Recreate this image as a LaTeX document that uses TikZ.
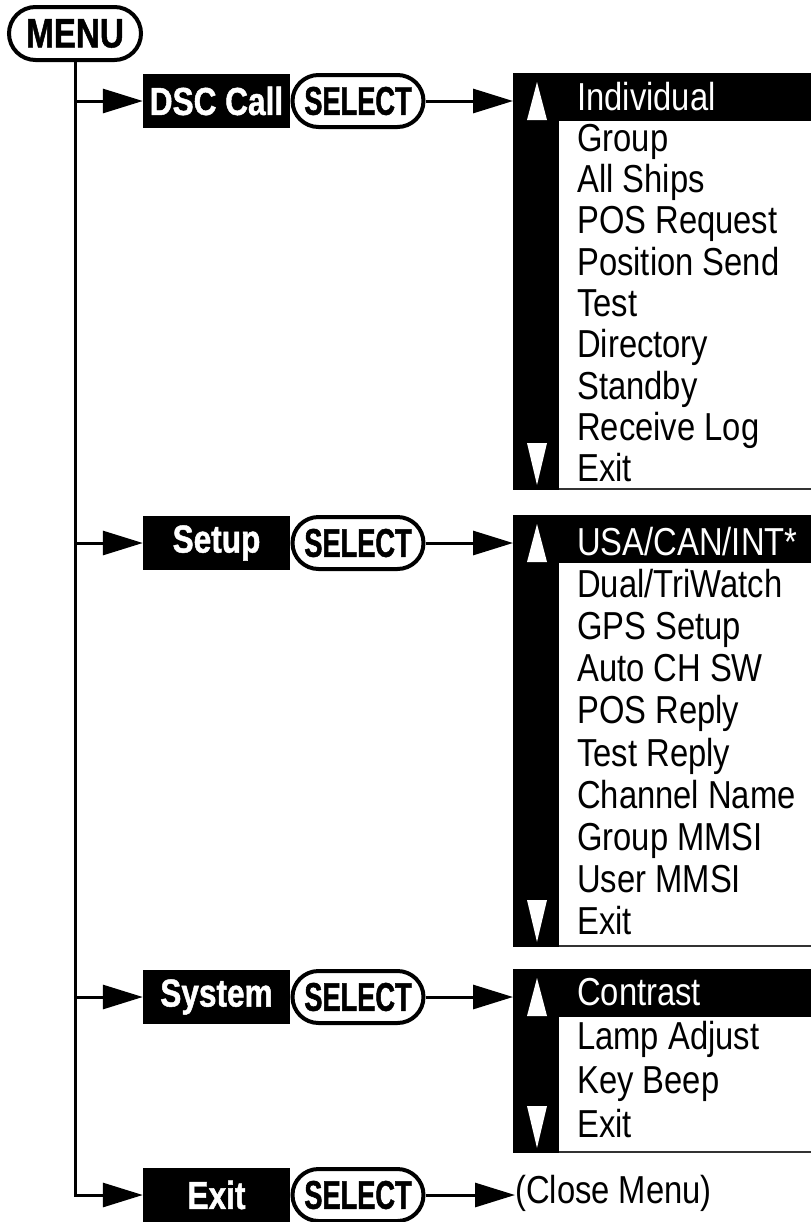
\documentclass[tikz,border=0pt]{standalone}
\usepackage{fontspec}
\setmainfont{Liberation Sans}[FakeStretch=0.84]
\newfontfamily\boldlab{Liberation Sans}[FakeStretch=0.81,FakeBold=1.2]
\newfontfamily\sellab{Liberation Sans}[FakeStretch=0.68,FakeBold=1.2]
\usetikzlibrary{arrows.meta}
\begin{document}
\begin{tikzpicture}[x=1bp,y=-1bp,
  conn/.style={line width=3bp,-{Triangle[length=40bp,width=24bp]}},
  blackbox/.style={fill=black,text=white,minimum width=147bp,minimum height=54bp,inner sep=0pt,font=\boldlab\bfseries\fontsize{39bp}{40bp}\selectfont},
  selbtn/.style={draw,line width=4bp,rounded corners=26bp,minimum width=131bp,minimum height=52bp,inner sep=0pt,font=\sellab\bfseries\fontsize{40bp}{40bp}\selectfont},
  item/.style={anchor=base west,inner sep=0pt,font=\fontsize{39bp}{40bp}\selectfont},
  hitem/.style={item,text=white},
  menuframe/.style={inner sep=0pt,minimum width=298bp,anchor=north west},
  menuline/.style={line width=2bp,draw=black!80}]
\fill[white] (0,0) rectangle (811,1222);
\useasboundingbox (0,0) rectangle (811,1222);

% top button
\node[selbtn,minimum width=132bp,minimum height=53bp,rounded corners=26.5bp,font=\boldlab\bfseries\fontsize{41bp}{42bp}\selectfont] (menu) at (75,33.5) {MENU};

% rows
\node[blackbox] (dsc) at (216.5,101) {DSC Call};
\node[selbtn] (sel1) at (358,101) {SELECT};
\node[blackbox] (setup) at (216.5,543) {Setup};
\node[selbtn] (sel2) at (358,543) {SELECT};
\node[blackbox] (system) at (216.5,997) {System};
\node[selbtn] (sel3) at (358,997) {SELECT};
\node[blackbox] (exitb) at (216.5,1195) {Exit};
\node[selbtn] (sel4) at (358,1195) {SELECT};

% menus
\foreach \t/\b/\n in {73/490/m1,515/947/m2,969/1153/m3}{
  \node[menuframe,minimum height={(\b-\t)*1bp}] (\n) at (513,\t) {};
  \fill (513,\t) rectangle (559,\b);
  \fill (513,\t) rectangle (811,{\t+48});
  \draw[menuline] (559,{\b-1}) -- (811,{\b-1});
  \fill[white] (527,{\t+47}) -- (537,{\t+9}) -- (547,{\t+47}) -- cycle;
  \fill[white] (527,{\b-47}) -- (537,{\b-5}) -- (547,{\b-47}) -- cycle;
}

% menu 1 items
\node[hitem] (a0) at (577,110) {Individual};
\foreach \s [count=\k from 1] in {Group,All Ships,POS Request,Position Send,Test,Directory,Standby,Receive Log,Exit}
  \node[item] (a\k) at (577,{110+41.3*\k}) {\s};

% menu 2 items
\node[hitem] (b0) at (577,555) {USA/CAN/INT*};
\foreach \s [count=\k from 1] in {Dual/TriWatch,GPS Setup,Auto CH SW,POS Reply,Test Reply,Channel Name,Group MMSI,User MMSI,Exit}
  \node[item] (b\k) at (577,{555+42.2*\k}) {\s};

% menu 3 items
\node[hitem] (c0) at (577,1005) {Contrast};
\foreach \s [count=\k from 1] in {Lamp Adjust,Key Beep,Exit}
  \node[item] (c\k) at (577,{1005+44*\k}) {\s};

\node[item] (close) at (515,1203) {(Close Menu)};

% connectors
\draw[conn] (menu.south) |- (exitb.west);
\draw[conn] (menu.south |- dsc.west) -- (dsc.west);
\draw[conn] (menu.south |- setup.west) -- (setup.west);
\draw[conn] (menu.south |- system.west) -- (system.west);
\draw[conn] (sel1.east) -- (sel1.east -| m1.west);
\draw[conn] (sel2.east) -- (sel2.east -| m2.west);
\draw[conn] (sel3.east) -- (sel3.east -| m3.west);
\draw[conn] (sel4.east) -- (sel4.east -| close.west);
\end{tikzpicture}
\end{document}
